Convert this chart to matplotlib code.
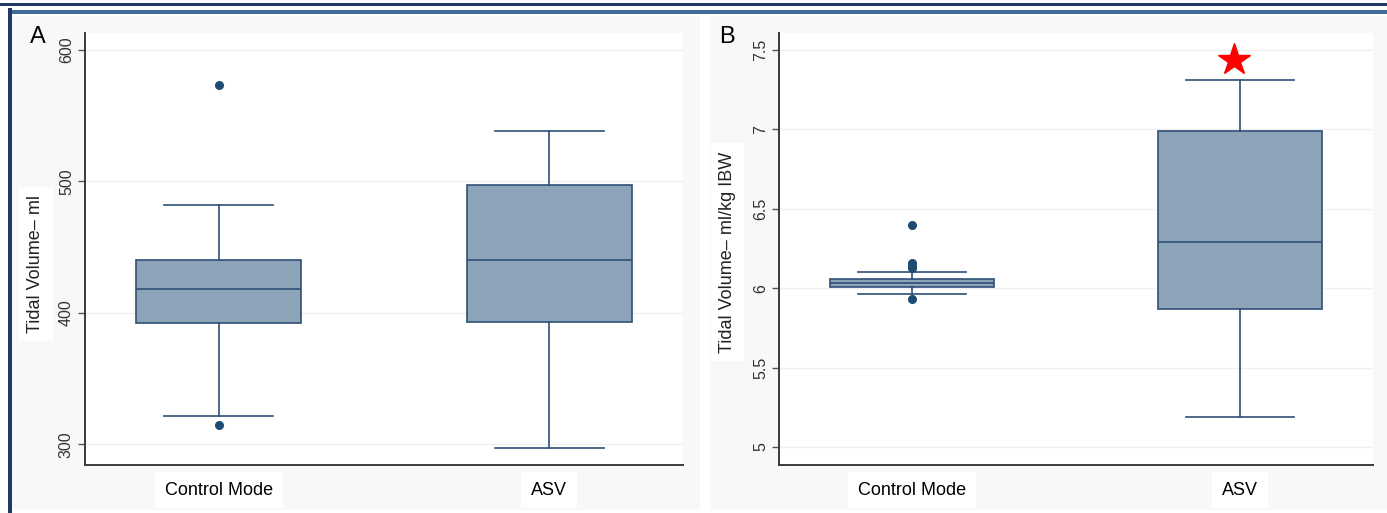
"""Tidal volume boxplots: Control Mode vs ASV (panel A in ml, panel B in ml/kg IBW)."""
import matplotlib
matplotlib.use("Agg")
import matplotlib.pyplot as plt
from matplotlib.patches import Rectangle

# ---- data ----
groups = ["Control Mode", "ASV"]

# panel A: tidal volume (ml)
a_q1 = [392, 393]
a_med = [418, 440]
a_q3 = [440, 497]
a_whislo = [322, 297]
a_whishi = [482, 538]
a_fliers = [[573, 315], []]

# panel B: tidal volume (ml/kg IBW)
b_q1 = [6.01, 5.87]
b_med = [6.035, 6.29]
b_q3 = [6.055, 6.99]
b_whislo = [5.965, 5.19]
b_whishi = [6.105, 7.31]
b_fliers = [[6.40, 6.16, 6.14, 6.125, 5.93], []]

star_group = 1
star_value = 7.44

W, H = 1387, 513
BOX_FILL = "#8DA3B8"
BOX_EDGE = "#2E5077"
DOT = "#1F4B73"
NAVY = "#1F3864"
BLUE = "#41699A"

plt.rcParams["font.family"] = ["Liberation Sans", "DejaVu Sans"]
NARROW = ["Liberation Sans Narrow", "Liberation Sans", "DejaVu Sans"]


def px_rect(x0, y0, x1, y1, color, z=0):
    return Rectangle((x0 / W, 1 - y1 / H), (x1 - x0) / W, (y1 - y0) / H,
                     transform=fig.transFigure, facecolor=color, edgecolor="none",
                     zorder=z)


def stats(q1, med, q3, lo, hi, fl):
    return [dict(q1=q1[i], med=med[i], q3=q3[i], whislo=lo[i], whishi=hi[i],
                 fliers=fl[i], label=groups[i]) for i in range(len(groups))]


def draw(ax, st, ylim, yticks, yticklabels, ylabel, label_xy):
    ax.bxp(st, positions=[0, 1], widths=0.5, capwidths=0.33, patch_artist=True,
           boxprops=dict(facecolor=BOX_FILL, edgecolor=BOX_EDGE, linewidth=1.2),
           medianprops=dict(color=BOX_EDGE, linewidth=1.2),
           whiskerprops=dict(color=BOX_EDGE, linewidth=1.2),
           capprops=dict(color=BOX_EDGE, linewidth=1.2),
           flierprops=dict(marker="o", markerfacecolor=DOT, markeredgecolor=DOT,
                           markersize=5.5))
    ax.set_xlim(-0.405, 1.405)
    ax.set_ylim(*ylim)
    ax.set_yticks(yticks)
    ax.set_yticklabels(yticklabels, rotation=90, va="center", fontsize=11.5,
                       color="#333333")
    ax.set_facecolor("white")
    for s in ("top", "right"):
        ax.spines[s].set_visible(False)
    for s in ("left", "bottom"):
        ax.spines[s].set_color("#3a3a3a")
        ax.spines[s].set_linewidth(1.4)
    ax.yaxis.grid(True, color="#F0F0F0", linewidth=1.0)
    ax.set_axisbelow(True)
    ax.tick_params(axis="y", length=5, width=1, color="#555555", pad=3)
    ax.tick_params(axis="x", length=0, pad=12)
    for lbl in ax.get_xticklabels():
        lbl.set_fontsize(13)
        lbl.set_family(NARROW)
        lbl.set_bbox(dict(facecolor="white", edgecolor="none", pad=7))
    ax.set_ylabel(ylabel, fontsize=13, color="#222222", va="center",
                  bbox=dict(facecolor="white", edgecolor="none", pad=6))
    ax.yaxis.set_label_coords(*label_xy)


fig = plt.figure(figsize=(W / 100, H / 100), dpi=100)
fig.patch.set_facecolor("white")

# panel backgrounds and frame lines
fig.add_artist(px_rect(12, 16, 700, 510, "#F8F8F8"))
fig.add_artist(px_rect(710, 16, 1387, 510, "#F8F8F8"))
fig.add_artist(px_rect(0, 3, 1387, 6, NAVY, z=5))
fig.add_artist(px_rect(8, 10, 1387, 14, BLUE, z=5))
fig.add_artist(px_rect(8, 8, 12, 513, NAVY, z=5))

ax_a = fig.add_axes([85 / W, 1 - 465 / H, (683 - 85) / W, (465 - 33) / H])
draw(ax_a, stats(a_q1, a_med, a_q3, a_whislo, a_whishi, a_fliers),
     (284.4, 612.9), [300, 400, 500, 600], ["300", "400", "500", "600"],
     "Tidal Volume\u2013 ml", (-0.082, 0.465))

ax_b = fig.add_axes([779 / W, 1 - 465 / H, (1373 - 779) / W, (465 - 33) / H])
draw(ax_b, stats(b_q1, b_med, b_q3, b_whislo, b_whishi, b_fliers),
     (4.887, 7.607), [5, 5.5, 6, 6.5, 7, 7.5], ["5", "5.5", "6", "6.5", "7", "7.5"],
     "Tidal Volume\u2013 ml/kg IBW", (-0.087, 0.493))
ax_b.plot([star_group - 0.02], [star_value], marker="*", color="red",
          markersize=24, linestyle="none", clip_on=False)

fig.text(38 / W, 1 - 37 / H, "A", fontsize=17, family=NARROW, va="center", ha="center")
fig.text(727 / W, 1 - 37 / H, "B", fontsize=17, family=NARROW, va="center", ha="center")

fig.savefig("out.png", dpi=100)
